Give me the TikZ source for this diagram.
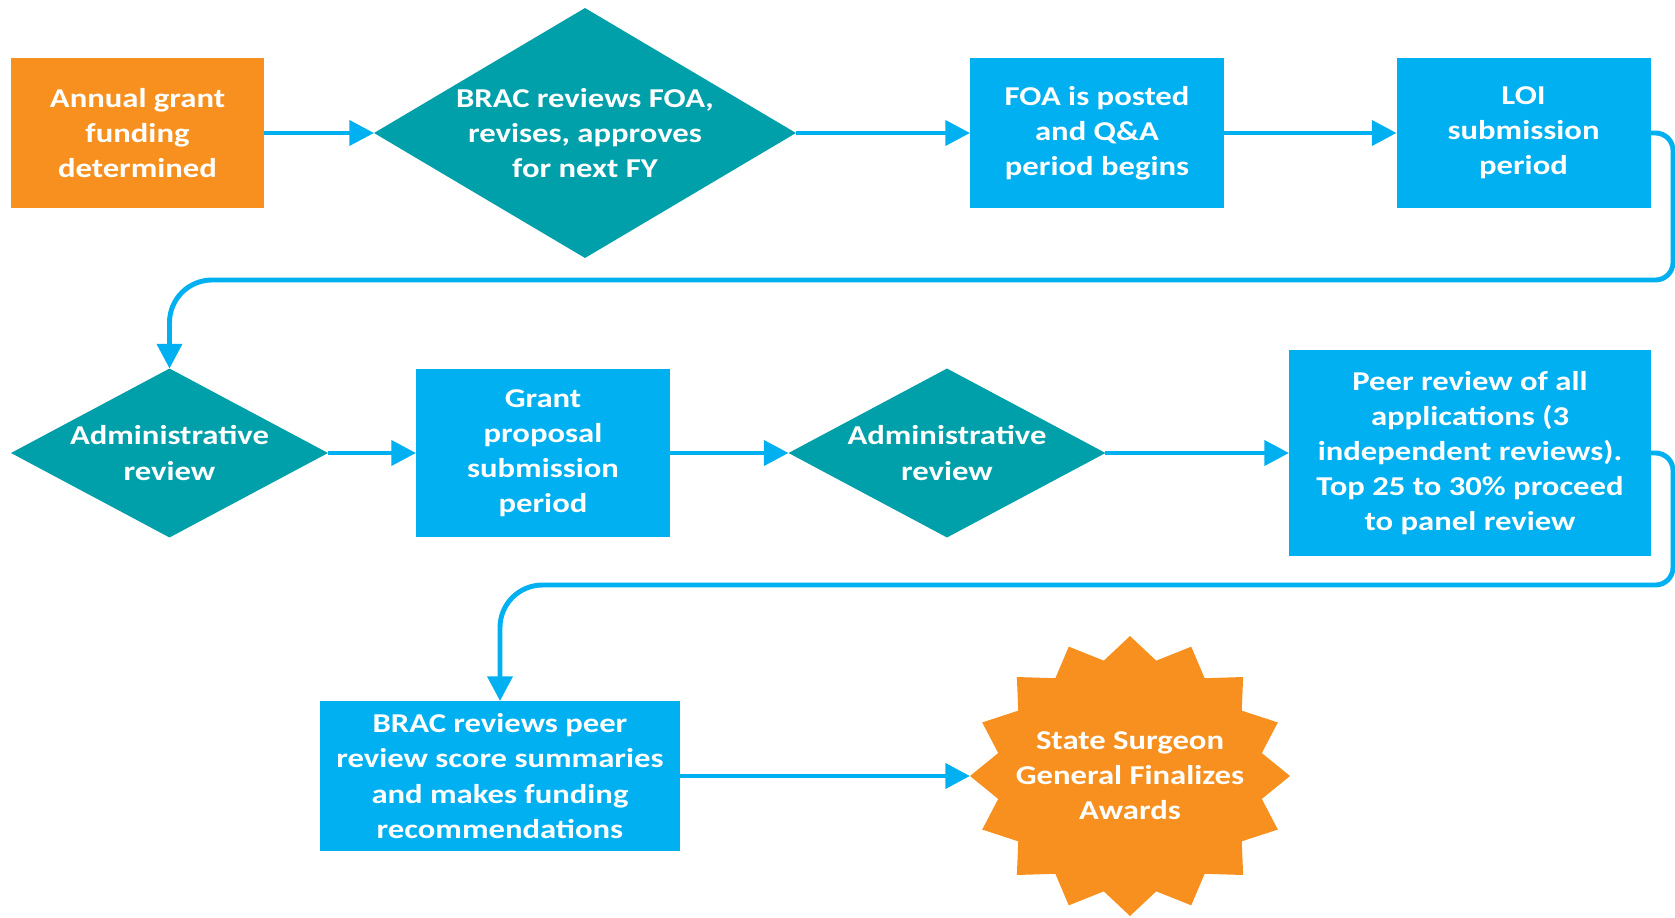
\documentclass[tikz,border=0pt]{standalone}
\usepackage{fontspec}
\setmainfont{Carlito}[FakeStretch=1.2]
\usepackage{tikz}
\usetikzlibrary{shapes.geometric}
\usetikzlibrary{arrows.meta}
\definecolor{fundorange}{RGB}{247,144,30}
\definecolor{revteal}{RGB}{0,160,170}
\definecolor{stepblue}{RGB}{0,176,240}

\begin{document}
\begin{tikzpicture}[x=0.02cm, y=-0.02cm,
		txt/.style      = {text=white, font=\fontsize{15.5}{20}\selectfont\bfseries, align=center, inner sep=0pt},
		stage/.style    = {rectangle, fill=stepblue, txt, minimum width=5.08cm, minimum height=3cm, outer sep=0pt},
		decision/.style = {diamond, fill=revteal, inner sep=0pt, outer sep=0pt},
		flow/.style     = {draw=stepblue, line width=2.8pt, >={Triangle[width=14pt,length=14pt]}}]
		
		\useasboundingbox (0,0) rectangle (1675,918);
		%%%%%%%%%%%%%%%%%%% Row 1
		\node[stage, fill=fundorange] (fund) at (137.5,133) {Annual grant\\funding\\determined};
		\node[decision, minimum width=8.44cm, minimum height=5cm] (brac1) at (585,133) {};
		\node[txt] (brac1txt) at (brac1) {BRAC reviews FOA,\\revises, approves\\for next FY};
		\node[stage] (foa) at (1097,133) {FOA is posted\\and Q\&A\\period begins};
		\node[stage] (loi) at (1523.5,133) {LOI\\submission\\period};
		\draw [flow] [->] (fund.east) -- (brac1.west);
		\draw [flow] [->] (brac1.east) -- (foa.west);
		\draw [flow] [->] (foa.east) -- (loi.west);
		%%%%%%%%%%%%%%%%%%% Row 2
		\node[decision, minimum width=6.34cm, minimum height=3.38cm] (adm1) at (169.5,453) {};
		\node[txt] (adm1txt) at (adm1) {Administrative\\review};
		\node[stage, minimum height=3.36cm] (grant) at (543,453) {Grant\\proposal\\submission\\period};
		\node[decision, minimum width=6.34cm, minimum height=3.38cm] (adm2) at (947,453) {};
		\node[txt] (adm2txt) at (adm2) {Administrative\\review};
		\node[stage, minimum width=7.24cm, minimum height=4.14cm] (peer) at (1470,453) {Peer review of all\\applications (3\\independent reviews).\\Top 25 to 30\% proceed\\to panel review};
		\coordinate (bend1) at (1673,280);
		\draw [flow] [->] (loi.east) [rounded corners=0.35cm] -| (bend1) [rounded corners=0.85cm] -| (adm1.north); % wrap to row 2
		\draw [flow] [->] (adm1.east) -- (grant.west);
		\draw [flow] [->] (grant.east) -- (adm2.west);
		\draw [flow] [->] (adm2.east) -- (peer.west);
		%%%%%%%%%%%%%%%%%%% Row 3
		\node[stage, minimum width=7.22cm] (brac2) at (500,776) {BRAC reviews peer\\review score summaries\\and makes funding\\recommendations};
		\fill[fundorange, shift={(1130,776)}] (160,0)
		\foreach \k [evaluate=\k as \r using (isodd(\k) ? 0.84 : 1)] in {1,...,31} {
			-- ({160*\r*cos(\k*11.25)}, {140*\r*sin(\k*11.25)})
		} -- cycle;
		\node[txt] (award) at (1130,776) {State Surgeon\\General Finalizes\\Awards};
		\coordinate (awardtip) at (970,776);
		\coordinate (bend2) at (1673,585);
		\draw [flow] [->] (peer.east) [rounded corners=0.35cm] -| (bend2) [rounded corners=0.85cm] -| (brac2.north); % wrap to row 3
		\draw [flow] [->] (brac2.east) -- (awardtip);
		
\end{tikzpicture}
\end{document}
